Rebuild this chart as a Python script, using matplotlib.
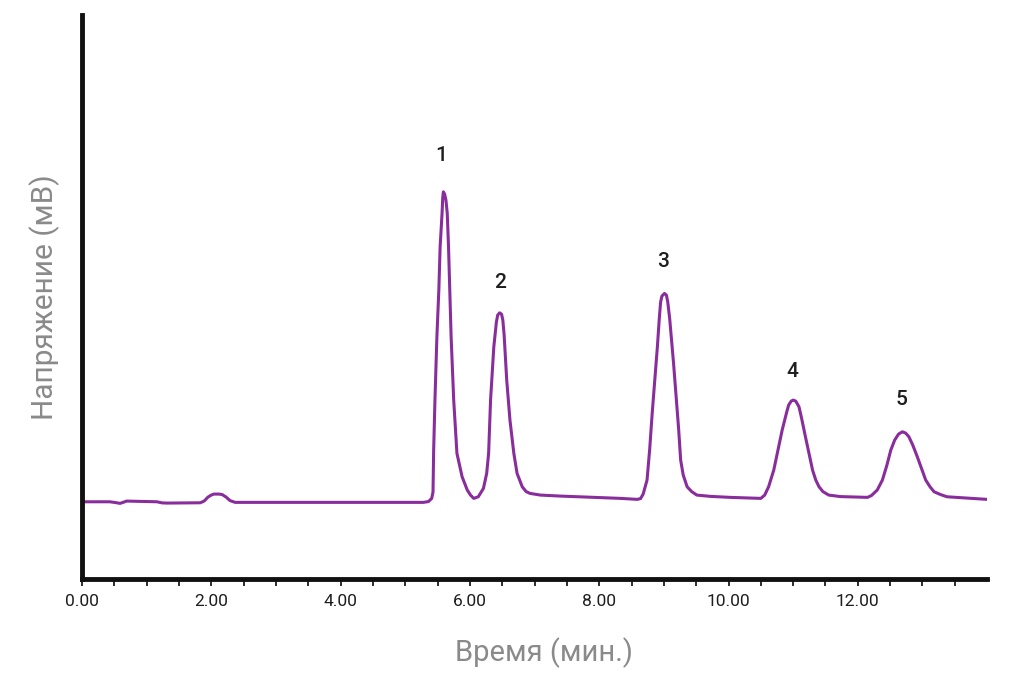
import numpy as np
import matplotlib.pyplot as plt
from matplotlib.ticker import FixedLocator

# chromatogram trace (time in min, signal in arbitrary mV)
time = [0.00, 0.43, 0.52, 0.59, 0.65, 0.69, 1.16, 1.24, 1.31, 1.83, 1.89, 1.95,
        2.00, 2.04, 2.12, 2.17, 2.23, 2.29, 2.37,
        5.28, 5.36, 5.41, 5.43, 5.44, 5.46, 5.49, 5.52, 5.54, 5.57, 5.58, 5.59,
        5.61, 5.63, 5.65, 5.67, 5.71, 5.75, 5.80, 5.88, 5.96, 6.01, 6.06, 6.13,
        6.21, 6.26, 6.29, 6.32, 6.37, 6.41, 6.43, 6.46, 6.49, 6.51, 6.53, 6.57,
        6.62, 6.68, 6.73, 6.81, 6.87, 6.93, 7.09, 7.40,
        8.33, 8.59, 8.64, 8.68, 8.74, 8.78, 8.82, 8.90, 8.93, 8.95, 8.97, 9.01,
        9.04, 9.06, 9.09, 9.15, 9.23, 9.26, 9.30, 9.36, 9.43, 9.51, 9.72, 10.03,
        10.50, 10.56, 10.62, 10.70, 10.83, 10.90, 10.93, 10.97, 11.00, 11.04,
        11.09, 11.13, 11.19, 11.30, 11.35, 11.40, 11.46, 11.55, 11.73,
        12.15, 12.21, 12.30, 12.38, 12.45, 12.51, 12.57, 12.63, 12.69, 12.74,
        12.79, 12.85, 12.92, 13.05, 13.12, 13.18, 13.28, 13.38, 14.00]
signal = [77.3, 77.3, 76.5, 75.7, 77.0, 78.0, 77.3, 76.2, 76.0, 76.3, 78.0, 82.0,
          84.0, 85.0, 85.0, 84.5, 82.0, 78.5, 76.7,
          76.7, 77.5, 80.7, 87.0, 129.0, 179.0, 242.3, 289.0, 332.3, 366.0, 381.0, 387.3,
          385.0, 379.0, 366.0, 332.3, 242.3, 179.0, 125.7, 102.3, 89.0, 84.0, 80.7, 82.3,
          90.7, 105.7, 125.7, 179.0, 232.0, 257.0, 264.0, 266.3, 265.0, 259.0, 244.0, 199.0,
          159.0, 125.7, 105.7, 92.3, 87.5, 85.7, 84.0, 83.0,
          80.7, 79.7, 80.5, 85.0, 99.0, 129.0, 166.0, 232.3, 261.0, 277.0, 283.0, 285.7,
          284.0, 277.3, 260.7, 216.0, 149.0, 119.0, 104.0, 92.3, 87.5, 84.0, 82.7, 81.7,
          80.7, 84.0, 92.3, 109.0, 149.0, 167.0, 174.0, 178.0, 179.0, 178.0,
          172.3, 161.0, 142.3, 109.0, 99.0, 92.3, 87.5, 84.0, 82.5,
          81.7, 83.5, 89.0, 99.0, 114.0, 129.0, 139.0, 145.0, 147.3, 146.0,
          142.3, 134.0, 122.3, 99.0, 92.0, 87.3, 84.5, 82.3, 79.7]

# peak numbers and where they sit
peak_names = ['1', '2', '3', '4', '5']
label_time = [5.56, 6.46, 8.99, 10.99, 12.68]
label_signal = [424, 297, 318, 208, 180]

plt.rcParams['font.family'] = ['Roboto', 'DejaVu Sans']

fig = plt.figure(figsize=(10.24, 6.91), dpi=100)
ax = fig.add_axes([0.080, 0.162, 0.884, 0.816])

ax.plot(time, signal, color='#8a2d9c', linewidth=2.2,
        solid_joinstyle='round', solid_capstyle='round')

for name, t, s in zip(peak_names, label_time, label_signal):
    ax.text(t, s, name, ha='center', va='center', fontsize=15,
            fontweight='medium', color='#1e1e1e')

ax.set_xlim(0, 14)
ax.set_ylim(0, 564)

ax.set_xticks([0, 2, 4, 6, 8, 10, 12])
ax.set_xticklabels(['0.00', '2.00', '4.00', '6.00', '8.00', '10.00', '12.00'])
ax.xaxis.set_minor_locator(FixedLocator([0.5, 1, 1.5, 2.5, 3, 3.5, 4.5, 5, 5.5,
                                         6.5, 7, 7.5, 8.5, 9, 9.5, 10.5, 11,
                                         11.5, 12.5, 13, 13.5]))
ax.tick_params(axis='x', which='both', direction='out', length=5, width=1.3,
               labelsize=12.5, colors='#1e1e1e', pad=6)
ax.set_yticks([])

for side in ['top', 'right']:
    ax.spines[side].set_visible(False)
for side in ['left', 'bottom']:
    ax.spines[side].set_linewidth(3.5)
    ax.spines[side].set_color('#111111')

ax.set_xlabel('Время (мин.)', fontsize=21, color='#8a8a8a', labelpad=20)
ax.xaxis.label.set_x(0.51)
ax.set_ylabel('Напряжение (мВ)', fontsize=21.5, color='#8a8a8a', labelpad=16)

fig.savefig('out.png', dpi=100, facecolor='white')
